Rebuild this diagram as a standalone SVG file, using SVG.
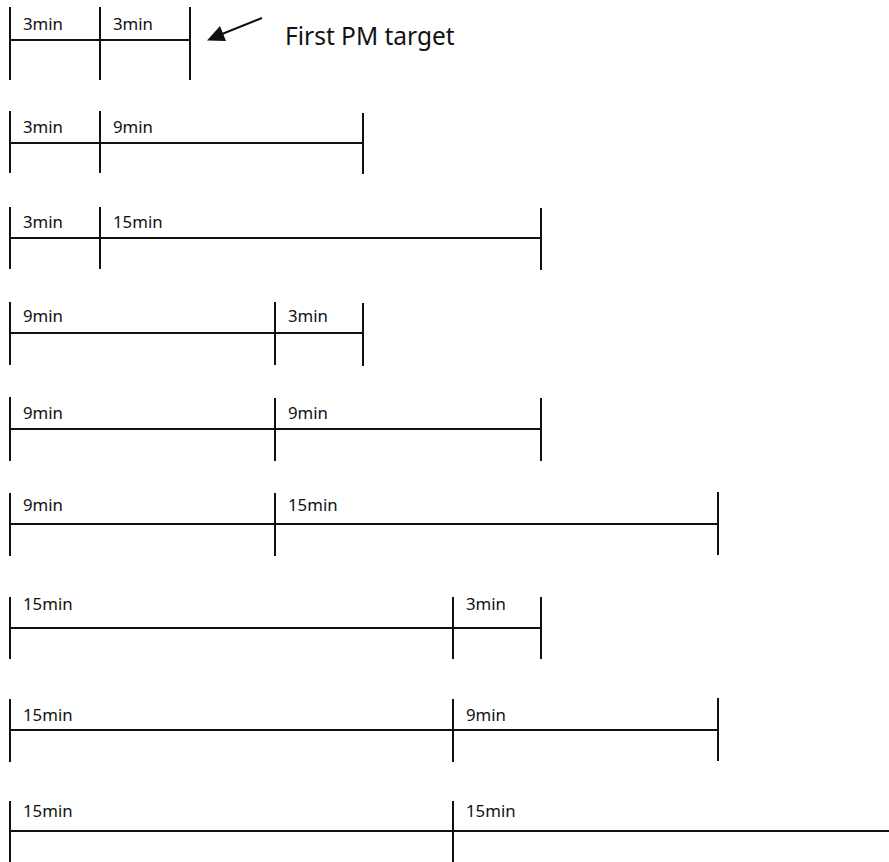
<svg xmlns="http://www.w3.org/2000/svg" width="889" height="862" viewBox="0 0 889 862">
<style>
.ln{stroke:#111;stroke-width:2;fill:none}
.lb{font-family:"Noto Sans","Open Sans","DejaVu Sans",sans-serif;font-size:16.8px;fill:#111}
.tt{font-family:"Noto Sans","Open Sans","DejaVu Sans",sans-serif;font-size:24.5px;fill:#111}
</style>
<rect width="889" height="862" fill="#fff"/>
<g id="row1">
<path class="ln" d="M10 7V80M100 7V80M190 7V80M10 40H190"/>
<text class="lb" x="23" y="30">3min</text><text class="lb" x="113" y="30">3min</text>
</g>
<g id="row2">
<path class="ln" d="M10 111V173M100 111V173M363 113V174M10 143H363"/>
<text class="lb" x="23" y="133">3min</text><text class="lb" x="113" y="133">9min</text>
</g>
<g id="row3">
<path class="ln" d="M10 207V269M100 207V269M541 208V270M10 238H541"/>
<text class="lb" x="23" y="228">3min</text><text class="lb" x="113" y="228">15min</text>
</g>
<g id="row4">
<path class="ln" d="M10 302V365M275 302V365M363 303V366M10 333H363"/>
<text class="lb" x="23" y="322">9min</text><text class="lb" x="288" y="322">3min</text>
</g>
<g id="row5">
<path class="ln" d="M10 397V461M275 398V461M541 398V461M10 429H541"/>
<text class="lb" x="23" y="419">9min</text><text class="lb" x="288" y="419">9min</text>
</g>
<g id="row6">
<path class="ln" d="M10 493V556M275 493V556M718 492V555M10 524H718"/>
<text class="lb" x="23" y="511">9min</text><text class="lb" x="288" y="511">15min</text>
</g>
<g id="row7">
<path class="ln" d="M10 597V659M453 597V659M541 597V659M10 628H541"/>
<text class="lb" x="23" y="610">15min</text><text class="lb" x="466" y="610">3min</text>
</g>
<g id="row8">
<path class="ln" d="M10 699V762M453 699V762M718 698V761M10 730H718"/>
<text class="lb" x="23" y="721">15min</text><text class="lb" x="466" y="721">9min</text>
</g>
<g id="row9">
<path class="ln" d="M10 801V862M453 801V862M10 831H889"/>
<text class="lb" x="23" y="817">15min</text><text class="lb" x="466" y="817">15min</text>
</g>
<g id="connectors">
<line class="ln" x1="262" y1="18" x2="222" y2="34"/>
<polygon points="207,40.5 226,41 220,26" fill="#111"/>
</g>
<g id="annotation">
<text class="tt" x="285" y="45">First PM target</text>
</g>
</svg>
